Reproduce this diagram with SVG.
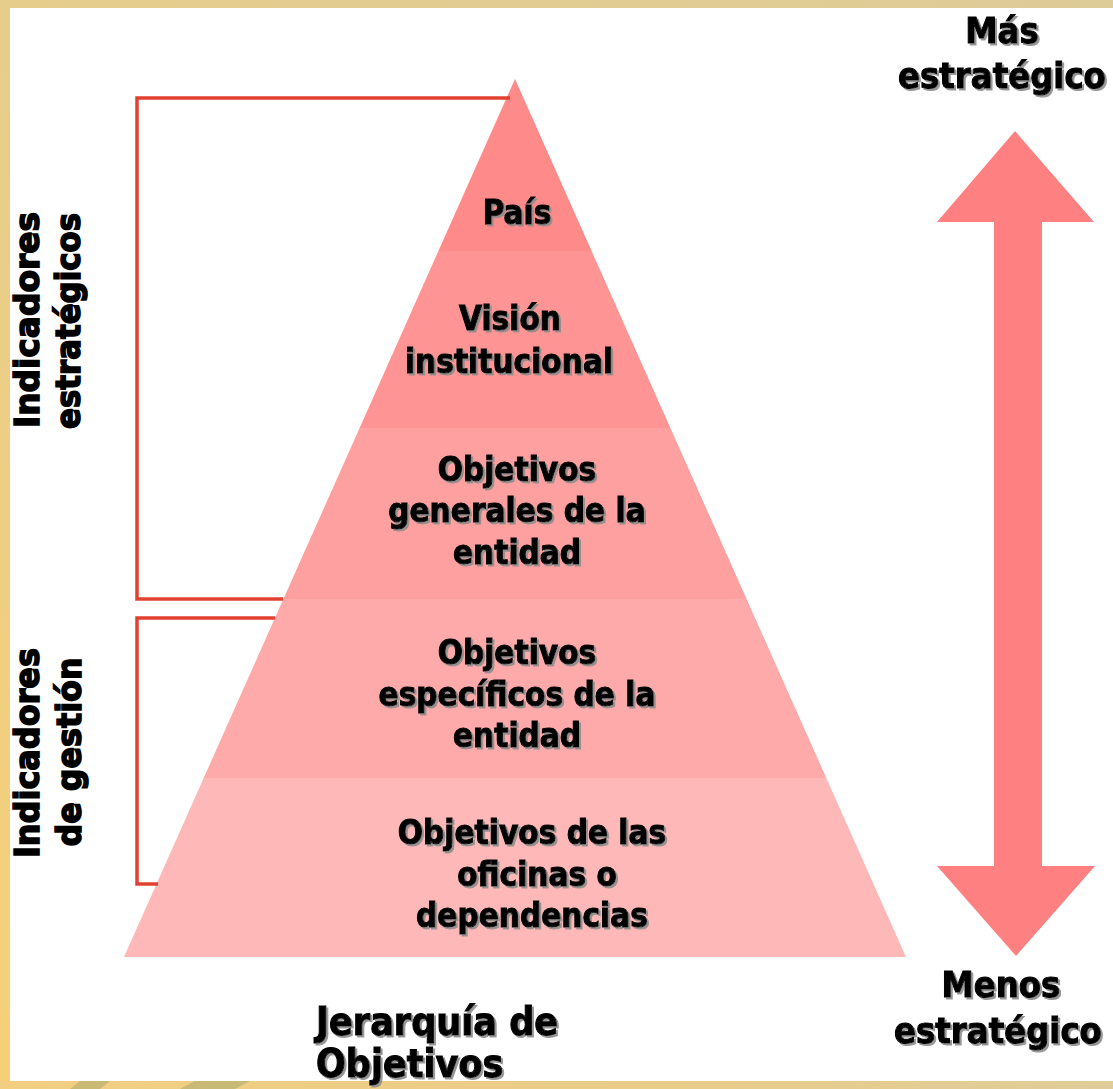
<svg xmlns="http://www.w3.org/2000/svg" width="1113" height="1089" viewBox="0 0 1113 1089">
<defs>
<style>
.lbl{font-family:"DejaVu Sans Condensed","DejaVu Sans","Liberation Sans",sans-serif;font-stretch:condensed;font-weight:bold;fill:#000;stroke:#000;stroke-width:1;text-anchor:middle}
.pyr{font-size:33px}
.side{font-size:36px}
.vert{font-family:"DejaVu Sans","Liberation Sans",sans-serif;font-weight:bold;font-size:34px;fill:#000;stroke:#000;stroke-width:1.6;text-anchor:middle}
.br{fill:none;stroke:#E2412F;stroke-width:3.5}
</style>
<filter id="sh" x="-10%" y="-20%" width="130%" height="150%">
<feDropShadow dx="2" dy="2" stdDeviation="0.6" flood-color="#8c8c8c" flood-opacity="0.9"/>
</filter>
<linearGradient id="lb" x1="0" y1="0" x2="0" y2="1">
<stop offset="0" stop-color="#E6CD8C"/>
<stop offset="1" stop-color="#F6D078"/>
</linearGradient>
<linearGradient id="tb" x1="0" y1="0" x2="1" y2="0">
<stop offset="0" stop-color="#E6CD8C"/>
<stop offset="1" stop-color="#DDCB98"/>
</linearGradient>
<linearGradient id="bb" x1="0" y1="0" x2="1" y2="0">
<stop offset="0" stop-color="#F2CF80"/>
<stop offset="0.6" stop-color="#E8CC8A"/>
<stop offset="1" stop-color="#E0CC9A"/>
</linearGradient>
</defs>
<rect width="1113" height="1089" fill="#fff"/>
<g id="border">
<rect x="0" y="0" width="1113" height="8" fill="url(#tb)"/>
<rect x="0" y="0" width="10" height="1089" fill="url(#lb)"/>
<rect x="0" y="1081" width="1113" height="8" fill="url(#bb)"/>
<path d="M70 1089 L80 1081 L110 1081 L100 1089 Z M180 1089 L195 1081 L250 1081 L235 1089 Z" fill="#B9B070" opacity="0.7"/>
</g>
<g id="pyramid">
<g id="band-pais"><polygon points="515,79 591.6,251 438.4,251" fill="#FF8A8A"/></g>
<g id="band-vision"><polygon points="438.4,251 591.6,251 670.4,428 359.6,428" fill="#FF9494"/></g>
<g id="band-generales"><polygon points="359.6,428 670.4,428 746.6,599 283.4,599" fill="#FFA0A0"/></g>
<g id="band-especificos"><polygon points="283.4,599 746.6,599 826.3,778 203.7,778" fill="#FFAAAA"/></g>
<g id="band-oficinas"><polygon points="203.7,778 826.3,778 906,957 124,957" fill="#FFB8B8"/></g>
</g>
<g id="labels-pyramid" class="lbl pyr" filter="url(#sh)">
<text x="517" y="224">País</text>
<text x="510" y="330">Visión</text>
<text x="509" y="373">institucional</text>
<text x="517" y="481">Objetivos</text>
<text x="517" y="522">generales de la</text>
<text x="517" y="564">entidad</text>
<text x="517" y="664">Objetivos</text>
<text x="517" y="706">específicos de la</text>
<text x="517" y="747">entidad</text>
<text x="532" y="844">Objetivos de las</text>
<text x="537" y="886">oficinas o</text>
<text x="532" y="927">dependencias</text>
</g>
<g id="connectors">
<path class="br" d="M510 98 H137 V599 H283"/>
<path class="br" d="M275 618 H137 V884 H158"/>
</g>
<g id="arrow">
<polygon points="1015,131 1094,222 1042,222 1042,866 1095,866 1016,956 937,866 994,866 994,222 937,222" fill="#FF8080"/>
</g>
<g id="label-mas" class="lbl side" filter="url(#sh)">
<text x="1002" y="43">Más</text>
<text x="1002" y="88">estratégico</text>
</g>
<g id="label-menos" class="lbl side" filter="url(#sh)">
<text x="1001" y="997">Menos</text>
<text x="998" y="1043">estratégico</text>
</g>
<g id="label-jerarquia" class="lbl" filter="url(#sh)" style="font-size:39px;text-anchor:start">
<text x="316" y="1035">Jerarquía de</text>
<text x="316" y="1077">Objetivos</text>
</g>
<g id="label-ind-estrategicos" class="vert">
<text transform="translate(39,320) rotate(-90)" textLength="216" lengthAdjust="spacingAndGlyphs">Indicadores</text>
<text transform="translate(80,321) rotate(-90)" textLength="216" lengthAdjust="spacingAndGlyphs">estratégicos</text>
</g>
<g id="label-ind-gestion" class="vert">
<text transform="translate(39,753) rotate(-90)" textLength="210" lengthAdjust="spacingAndGlyphs">Indicadores</text>
<text transform="translate(81,752) rotate(-90)" textLength="189" lengthAdjust="spacingAndGlyphs">de gestión</text>
</g>
</svg>
